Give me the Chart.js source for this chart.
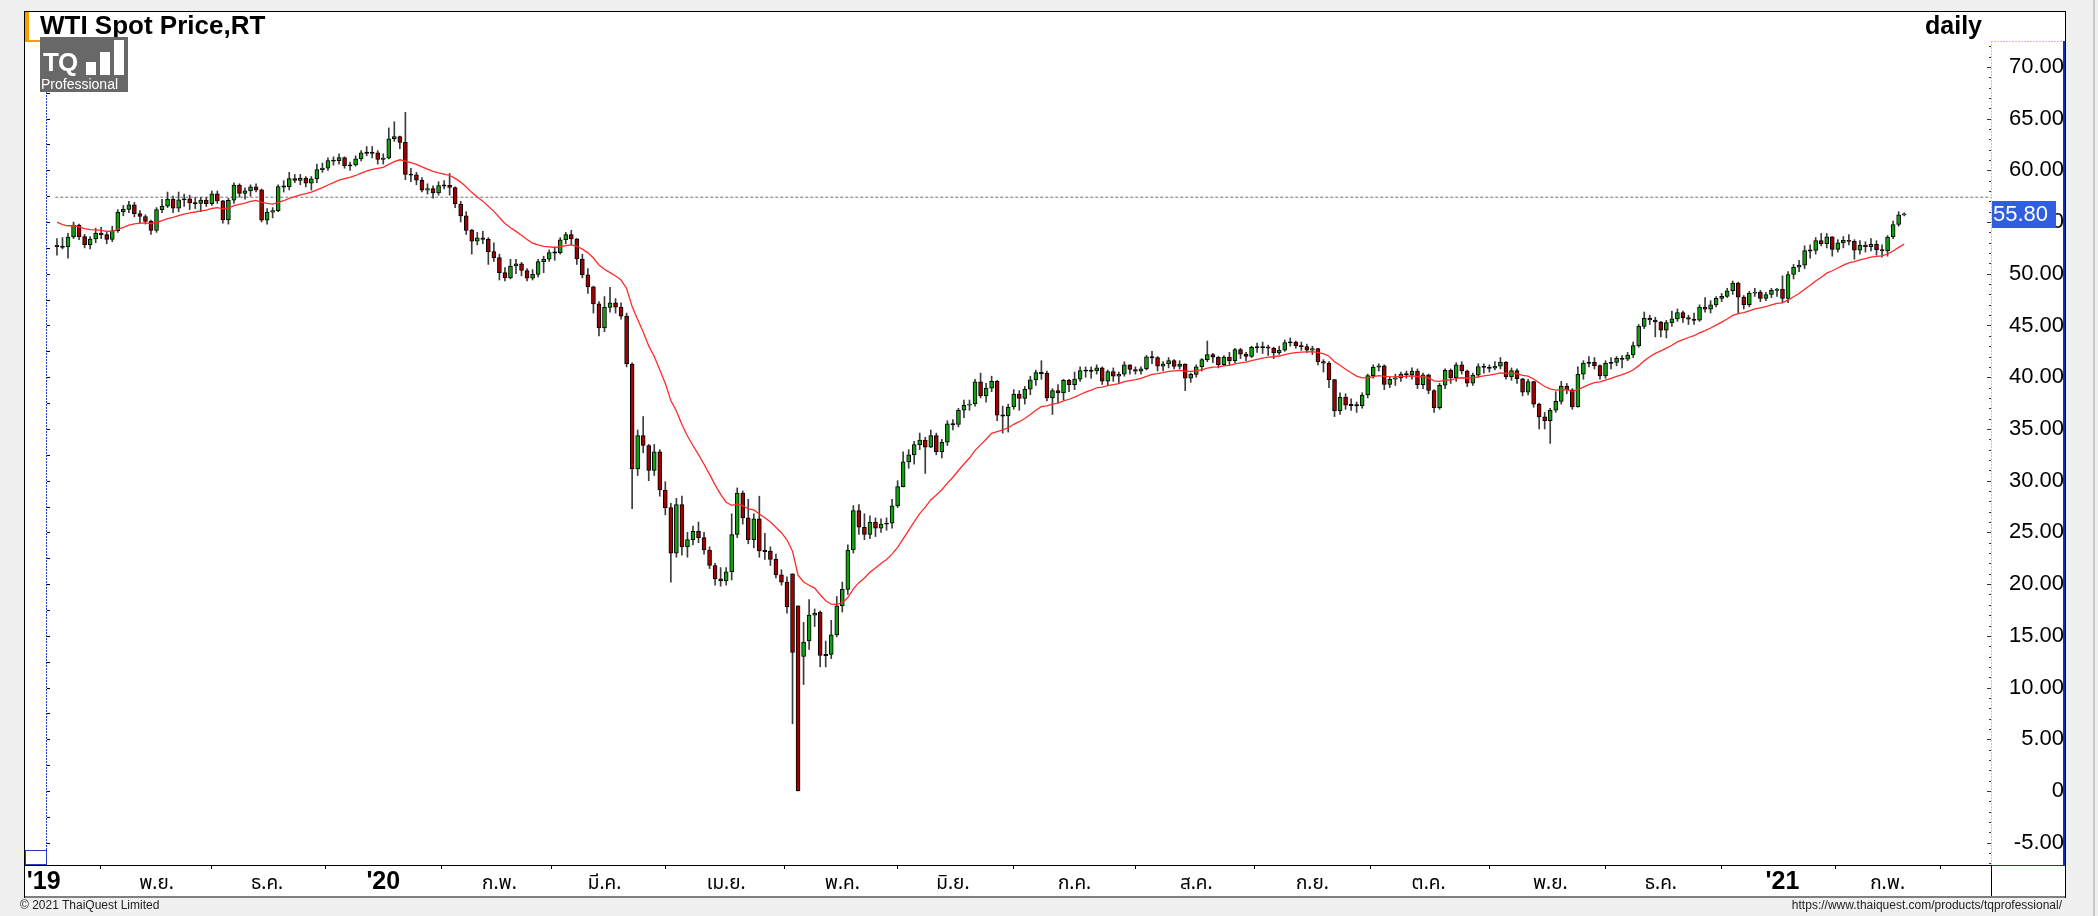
<!DOCTYPE html>
<html>
<head>
<meta charset="utf-8">
<script src="https://cdn.jsdelivr.net/npm/chart.js@4.4.1/dist/chart.umd.min.js"></script>
<style>
html,body{margin:0;padding:0;width:2098px;height:916px;overflow:hidden;background:#f0f0f0;font-family:"Liberation Sans",Arial,sans-serif;}
#frame{position:absolute;left:24px;top:11px;width:2042px;height:887px;background:#fff;border:1px solid #000;box-sizing:border-box;}
#wrap{position:absolute;left:0;top:0;width:2098px;height:916px;}
#title{position:absolute;left:40px;top:11px;font-weight:bold;font-size:26px;color:#000;line-height:29px;}
#daily{position:absolute;right:116px;top:11px;font-weight:bold;font-size:25px;color:#000;line-height:29px;}
#logo{position:absolute;left:40px;top:37px;width:88px;height:55px;background:#686868;color:#fff;}
#logo .tq{position:absolute;left:3px;top:12px;font-weight:bold;font-size:26px;letter-spacing:-1px;line-height:26px;}
#logo .pro{position:absolute;left:1px;top:40px;font-size:14px;line-height:15px;}
#logo .b{position:absolute;background:#fff;width:10px;}
#copy{position:absolute;left:20px;top:898px;font-size:12px;color:#222;font-family:"Liberation Sans Narrow","Liberation Sans",Arial,sans-serif;}
#url{position:absolute;right:36px;top:898px;font-size:12px;color:#222;font-family:"Liberation Sans Narrow","Liberation Sans",Arial,sans-serif;}
#edge{position:absolute;left:2093px;top:0;width:2px;height:916px;background:#c8c8c8;}
</style>
</head>
<body>
<div id="frame"></div>
<div id="edge"></div>
<div id="wrap"><canvas id="c" width="2098" height="916"></canvas></div>
<div id="title">WTI Spot Price,RT</div>
<div id="daily">daily</div>
<div id="logo"><span class="tq">TQ</span>
<span class="b" style="left:46px;top:25px;height:13px"></span>
<span class="b" style="left:60px;top:15px;height:23px"></span>
<span class="b" style="left:74px;top:3px;height:35px"></span>
<span class="pro">Professional</span></div>
<div id="copy">© 2021 ThaiQuest Limited</div>
<div id="url">https://www.thaiquest.com/products/tqprofessional/</div>
<script>
// ---------------- DATA ----------------
const tradingDays = [
"2019-10-08","2019-10-09","2019-10-10","2019-10-11","2019-10-14","2019-10-15","2019-10-16","2019-10-17","2019-10-18","2019-10-21","2019-10-22","2019-10-23","2019-10-24","2019-10-25","2019-10-28","2019-10-29","2019-10-30","2019-10-31",
"2019-11-01","2019-11-04","2019-11-05","2019-11-06","2019-11-07","2019-11-08","2019-11-11","2019-11-12","2019-11-13","2019-11-14","2019-11-15","2019-11-18","2019-11-19","2019-11-20","2019-11-21","2019-11-22","2019-11-25","2019-11-26","2019-11-27","2019-11-29",
"2019-12-02","2019-12-03","2019-12-04","2019-12-05","2019-12-06","2019-12-09","2019-12-10","2019-12-11","2019-12-12","2019-12-13","2019-12-16","2019-12-17","2019-12-18","2019-12-19","2019-12-20","2019-12-23","2019-12-24","2019-12-26","2019-12-27","2019-12-30","2019-12-31",
"2020-01-02","2020-01-03","2020-01-06","2020-01-07","2020-01-08","2020-01-09","2020-01-10","2020-01-13","2020-01-14","2020-01-15","2020-01-16","2020-01-17","2020-01-21","2020-01-22","2020-01-23","2020-01-24","2020-01-27","2020-01-28","2020-01-29","2020-01-30","2020-01-31",
"2020-02-03","2020-02-04","2020-02-05","2020-02-06","2020-02-07","2020-02-10","2020-02-11","2020-02-12","2020-02-13","2020-02-14","2020-02-18","2020-02-19","2020-02-20","2020-02-21","2020-02-24","2020-02-25","2020-02-26","2020-02-27","2020-02-28",
"2020-03-02","2020-03-03","2020-03-04","2020-03-05","2020-03-06","2020-03-09","2020-03-10","2020-03-11","2020-03-12","2020-03-13","2020-03-16","2020-03-17","2020-03-18","2020-03-19","2020-03-20","2020-03-23","2020-03-24","2020-03-25","2020-03-26","2020-03-27","2020-03-30","2020-03-31",
"2020-04-01","2020-04-02","2020-04-03","2020-04-06","2020-04-07","2020-04-08","2020-04-09","2020-04-13","2020-04-14","2020-04-15","2020-04-16","2020-04-17","2020-04-20","2020-04-21","2020-04-22","2020-04-23","2020-04-24","2020-04-27","2020-04-28","2020-04-29","2020-04-30",
"2020-05-01","2020-05-04","2020-05-05","2020-05-06","2020-05-07","2020-05-08","2020-05-11","2020-05-12","2020-05-13","2020-05-14","2020-05-15","2020-05-18","2020-05-19","2020-05-20","2020-05-21","2020-05-22","2020-05-26","2020-05-27","2020-05-28","2020-05-29",
"2020-06-01","2020-06-02","2020-06-03","2020-06-04","2020-06-05","2020-06-08","2020-06-09","2020-06-10","2020-06-11","2020-06-12","2020-06-15","2020-06-16","2020-06-17","2020-06-18","2020-06-19","2020-06-22","2020-06-23","2020-06-24","2020-06-25","2020-06-26","2020-06-29","2020-06-30",
"2020-07-01","2020-07-02","2020-07-06","2020-07-07","2020-07-08","2020-07-09","2020-07-10","2020-07-13","2020-07-14","2020-07-15","2020-07-16","2020-07-17","2020-07-20","2020-07-21","2020-07-22","2020-07-23","2020-07-24","2020-07-27","2020-07-28","2020-07-29","2020-07-30","2020-07-31",
"2020-08-03","2020-08-04","2020-08-05","2020-08-06","2020-08-07","2020-08-10","2020-08-11","2020-08-12","2020-08-13","2020-08-14","2020-08-17","2020-08-18","2020-08-19","2020-08-20","2020-08-21","2020-08-24","2020-08-25","2020-08-26","2020-08-27","2020-08-28","2020-08-31",
"2020-09-01","2020-09-02","2020-09-03","2020-09-04","2020-09-08","2020-09-09","2020-09-10","2020-09-11","2020-09-14","2020-09-15","2020-09-16","2020-09-17","2020-09-18","2020-09-21","2020-09-22","2020-09-23","2020-09-24","2020-09-25","2020-09-28","2020-09-29","2020-09-30",
"2020-10-01","2020-10-02","2020-10-05","2020-10-06","2020-10-07","2020-10-08","2020-10-09","2020-10-12","2020-10-13","2020-10-14","2020-10-15","2020-10-16","2020-10-19","2020-10-20","2020-10-21","2020-10-22","2020-10-23","2020-10-26","2020-10-27","2020-10-28","2020-10-29","2020-10-30",
"2020-11-02","2020-11-03","2020-11-04","2020-11-05","2020-11-06","2020-11-09","2020-11-10","2020-11-11","2020-11-12","2020-11-13","2020-11-16","2020-11-17","2020-11-18","2020-11-19","2020-11-20","2020-11-23","2020-11-24","2020-11-25","2020-11-27","2020-11-30",
"2020-12-01","2020-12-02","2020-12-03","2020-12-04","2020-12-07","2020-12-08","2020-12-09","2020-12-10","2020-12-11","2020-12-14","2020-12-15","2020-12-16","2020-12-17","2020-12-18","2020-12-21","2020-12-22","2020-12-23","2020-12-24","2020-12-28","2020-12-29","2020-12-30","2020-12-31",
"2021-01-04","2021-01-05","2021-01-06","2021-01-07","2021-01-08","2021-01-11","2021-01-12","2021-01-13","2021-01-14","2021-01-15","2021-01-19","2021-01-20","2021-01-21","2021-01-22","2021-01-25","2021-01-26","2021-01-27","2021-01-28","2021-01-29",
"2021-02-01","2021-02-02","2021-02-03","2021-02-04"];

const openP = [
52.75,52.63,52.59,53.55,54.70,53.59,52.81,53.36,53.93,53.78,53.31,54.16,55.97,56.23,56.66,55.81,55.54,55.06,
54.18,56.20,56.54,57.23,56.35,57.15,57.24,56.86,56.80,57.12,56.77,57.72,57.05,55.21,57.11,58.58,57.77,58.01,58.41,58.11,
55.17,55.96,56.10,58.43,58.43,59.20,59.02,59.24,58.76,59.18,60.07,60.21,60.94,60.93,61.22,60.44,60.52,61.11,61.68,61.72,61.68,
61.06,61.18,63.05,63.27,62.70,59.61,59.56,59.04,58.08,58.23,57.81,58.52,58.54,58.34,56.74,55.59,54.19,53.14,53.48,53.33,52.14,
51.56,50.11,49.61,50.75,50.95,50.32,49.57,49.94,51.17,51.42,52.05,52.05,53.29,53.78,53.38,51.43,49.90,48.73,47.09,
44.76,46.75,47.18,46.78,45.90,41.28,31.13,34.36,33.40,31.00,32.80,29.10,27.40,23.00,27.70,23.60,24.30,25.10,24.50,23.30,21.80,20.50,
20.30,21.20,24.80,28.80,26.40,24.30,26.30,23.20,23.20,22.40,20.90,20.20,21.00,17.90,13.00,14.50,17.00,17.30,13.10,13.20,15.10,
17.90,19.50,23.30,27.10,25.50,24.80,26.00,25.40,25.80,25.90,27.56,29.43,31.82,32.50,33.49,33.92,33.25,34.35,32.81,33.71,
35.49,35.44,36.81,37.29,37.41,39.55,38.19,38.94,39.60,36.34,36.26,37.12,38.38,37.96,38.84,39.75,40.46,40.37,38.01,38.72,38.49,39.70,
39.27,39.82,40.65,40.63,40.62,40.90,39.62,40.55,40.10,40.29,41.20,40.75,40.59,40.81,41.96,41.90,41.07,41.29,41.60,41.04,41.27,39.92,
40.27,41.01,41.70,42.19,41.95,41.22,41.94,41.61,42.67,42.24,42.01,42.89,42.89,42.93,42.82,42.34,42.62,43.35,43.39,43.04,42.97,
42.61,42.76,41.51,41.37,39.77,36.76,38.05,37.30,37.33,37.26,38.28,40.16,40.97,41.11,39.31,39.80,39.93,40.31,40.25,40.60,39.29,
40.22,38.72,37.05,39.22,40.67,39.95,41.19,40.60,39.43,40.20,41.04,40.96,40.88,41.06,41.46,40.03,40.64,39.85,38.56,39.57,37.39,36.17,
35.79,36.81,37.66,39.15,38.79,37.14,40.29,41.36,41.45,41.12,40.13,41.34,41.43,41.82,41.74,42.15,43.06,44.91,45.71,45.53,
45.34,44.55,45.28,45.64,46.26,45.76,45.60,45.52,46.78,46.57,46.99,47.62,47.82,48.36,49.10,47.74,47.02,48.12,48.23,47.62,48.00,48.40,
48.52,47.62,49.93,50.63,50.83,52.24,52.25,53.21,52.91,53.57,52.36,52.98,53.24,53.13,52.27,52.77,52.61,52.85,52.34,
52.20,53.55,54.76,55.69];

const highP = [
53.40,53.50,53.90,55.00,54.80,53.80,53.60,54.40,54.50,54.00,54.60,56.20,56.60,57.00,56.90,56.10,55.70,55.20,
56.40,57.20,57.90,57.50,57.90,57.70,57.60,57.40,57.40,57.40,58.00,58.00,57.10,57.30,58.80,58.70,58.30,58.60,58.70,58.20,
56.30,56.40,58.60,59.00,59.80,59.60,59.60,59.40,59.40,60.60,60.70,61.20,61.30,61.60,61.30,60.80,61.40,61.90,62.30,62.30,61.90,
61.60,64.10,64.70,63.30,65.60,60.20,59.80,59.30,58.70,58.50,58.90,59.00,59.70,58.40,57.00,56.00,54.30,54.00,54.10,53.50,53.00,
51.90,50.60,51.40,51.40,51.10,50.50,50.40,51.40,51.70,52.30,52.60,53.50,54.00,54.20,53.40,51.90,50.50,48.80,47.30,
47.80,48.70,47.60,47.20,46.20,41.40,34.90,36.20,33.50,33.50,33.00,29.90,27.80,28.30,28.50,25.00,25.60,26.00,25.00,23.60,22.00,21.60,
21.60,26.80,29.30,29.00,28.20,26.80,28.50,24.90,23.60,22.90,21.40,20.70,21.00,17.90,16.30,18.50,17.60,17.40,14.50,16.50,18.80,
20.20,23.80,27.60,27.70,26.80,26.60,26.40,26.30,26.40,28.20,30.00,32.80,33.00,33.80,34.60,34.20,34.90,34.60,34.00,35.80,
35.90,37.00,37.80,37.80,39.80,40.40,39.40,40.10,39.70,37.20,37.40,38.80,38.70,39.10,40.10,40.70,41.60,40.60,38.90,39.30,39.80,39.80,
40.50,41.00,41.00,41.00,41.20,41.00,40.70,40.90,40.50,41.50,41.20,41.00,41.00,42.10,42.50,42.00,41.50,41.90,41.70,41.60,41.30,40.40,
41.20,41.80,43.50,42.30,42.00,42.10,42.40,42.80,42.80,42.40,43.00,43.30,43.40,43.10,42.90,43.00,43.60,43.80,43.50,43.40,43.20,
43.00,42.80,41.70,41.50,39.80,38.50,38.40,37.90,37.60,38.50,40.30,41.20,41.30,41.20,40.00,40.30,40.50,40.60,40.90,40.80,40.40,
40.30,38.80,39.40,40.80,40.80,41.40,41.50,40.70,40.40,41.30,41.30,41.20,41.50,41.90,41.50,40.90,40.80,39.90,39.80,39.60,37.50,36.60,
37.00,38.60,39.60,39.40,38.90,41.00,41.60,42.00,41.90,41.20,41.60,41.90,42.00,42.10,42.40,43.40,45.10,46.30,46.00,45.80,
45.40,45.50,46.40,46.60,46.40,46.00,46.20,47.00,47.70,47.40,47.80,48.10,48.60,49.30,49.20,47.90,48.30,48.60,48.40,48.20,48.60,48.60,
49.80,50.20,50.90,51.30,52.70,52.80,53.50,53.90,53.90,53.60,53.30,53.60,53.80,53.30,53.20,53.10,53.40,53.20,52.80,
53.70,55.10,56.00,55.90];

const lowP = [
51.80,52.40,51.50,53.40,53.30,52.50,52.40,53.00,53.40,52.90,53.10,54.00,55.60,55.90,55.50,54.90,54.80,53.80,
54.00,55.90,56.40,55.90,56.00,56.50,56.20,56.30,56.00,56.50,56.60,56.80,54.90,54.80,56.80,57.40,57.20,57.50,57.90,55.00,
54.80,55.40,56.00,57.90,58.10,58.80,58.60,58.40,58.10,58.80,59.80,60.00,60.50,60.60,60.20,60.00,60.40,60.90,61.40,61.20,60.60,
60.60,61.10,62.80,62.10,59.10,58.90,58.60,57.90,57.70,57.30,57.60,58.20,57.60,56.40,55.00,53.80,51.90,52.80,52.90,50.90,51.20,
49.40,49.30,49.50,50.00,49.80,49.30,49.40,49.70,50.10,51.20,51.30,51.90,52.90,52.80,50.90,49.60,48.10,46.20,44.00,
44.40,46.30,46.20,45.60,41.00,27.30,30.50,32.70,30.00,30.50,28.50,26.70,20.20,22.60,22.80,22.60,23.80,24.00,22.90,21.50,19.90,19.80,
19.90,20.40,24.50,25.80,23.90,23.50,22.60,22.40,21.80,20.60,19.90,17.20,6.50,0.00,10.30,13.70,15.90,12.00,12.00,12.80,14.90,
17.30,19.00,23.00,24.80,24.30,24.40,24.60,25.00,25.20,25.40,27.40,29.40,31.20,31.60,33.00,30.70,33.20,32.50,32.20,33.40,
34.90,35.20,36.10,36.80,37.20,38.00,37.60,38.60,35.80,34.60,34.70,36.90,36.80,37.40,38.30,39.20,39.80,37.70,36.40,37.50,37.80,38.60,
38.80,39.60,40.00,39.90,40.30,39.30,39.20,39.60,39.40,40.10,40.30,40.30,40.30,40.70,41.30,40.60,40.60,40.90,40.80,40.80,38.70,39.50,
40.00,40.60,41.50,41.40,40.90,41.10,41.20,41.40,41.80,41.60,41.90,42.40,42.30,42.10,41.80,42.20,42.50,43.00,42.80,42.60,42.40,
42.20,41.20,40.50,39.00,36.20,36.40,36.90,36.80,36.60,37.00,38.00,39.90,40.60,38.80,39.00,39.20,39.60,39.90,39.80,38.90,38.90,
38.40,36.60,36.90,38.90,39.40,39.60,40.30,39.10,39.20,40.00,40.40,40.50,40.70,40.80,39.80,39.70,39.40,38.20,38.30,37.10,35.00,35.00,
33.60,36.60,37.40,38.40,36.90,37.10,39.80,41.00,40.80,39.80,39.90,40.80,41.10,40.90,41.60,41.90,42.90,44.70,45.10,43.90,
43.90,43.80,44.90,45.40,45.30,45.10,45.10,45.40,46.30,46.20,46.80,47.30,47.70,48.00,46.20,46.60,46.80,47.80,47.30,47.40,47.70,47.80,
47.20,47.20,49.50,50.20,50.50,51.50,51.90,52.70,52.50,51.70,52.10,52.50,52.80,51.40,51.90,52.10,52.20,51.80,51.60,
51.70,53.40,54.60,55.60];

const closeP = [
52.63,52.59,53.55,54.70,53.59,52.81,53.36,53.93,53.78,53.31,54.16,55.97,56.23,56.66,55.81,55.54,55.06,54.18,
56.20,56.54,57.23,56.35,57.15,57.24,56.86,56.80,57.12,56.77,57.72,57.05,55.21,57.11,58.58,57.77,58.01,58.41,58.11,55.17,
55.96,56.10,58.43,58.43,59.20,59.02,59.24,58.76,59.18,60.07,60.21,60.94,60.93,61.22,60.44,60.52,61.11,61.68,61.72,61.68,61.06,
61.18,63.05,63.27,62.70,59.61,59.56,59.04,58.08,58.23,57.81,58.52,58.54,58.34,56.74,55.59,54.19,53.14,53.48,53.33,52.14,51.56,
50.11,49.61,50.75,50.95,50.32,49.57,49.94,51.17,51.42,52.05,52.05,53.29,53.78,53.38,51.43,49.90,48.73,47.09,44.76,
46.75,47.18,46.78,45.90,41.28,31.13,34.36,33.40,31.00,32.80,29.10,27.40,23.00,27.70,23.60,24.30,25.10,24.50,23.30,21.80,20.50,20.30,
21.20,24.80,28.80,26.40,24.30,26.30,23.20,23.20,22.40,20.90,20.20,17.80,13.40,0.00,14.40,17.00,17.20,13.10,13.20,15.10,17.90,
19.50,23.30,27.10,25.50,24.80,26.00,25.40,25.80,25.90,27.56,29.43,31.82,32.50,33.49,33.92,33.25,34.35,32.81,33.71,35.49,
35.44,36.81,37.29,37.41,39.55,38.19,38.94,39.60,36.34,36.26,37.12,38.38,37.96,38.84,39.75,40.46,40.37,38.01,38.72,38.49,39.70,39.27,
39.82,40.65,40.63,40.62,40.90,39.62,40.55,40.10,40.29,41.20,40.75,40.59,40.81,41.96,41.90,41.07,41.29,41.60,41.04,41.27,39.92,40.27,
41.01,41.70,42.19,41.95,41.22,41.94,41.61,42.67,42.24,42.01,42.89,42.89,42.93,42.82,42.34,42.62,43.35,43.39,43.04,42.97,42.61,
42.76,41.51,41.37,39.77,36.76,38.05,37.30,37.33,37.26,38.28,40.16,40.97,41.11,39.31,39.80,39.93,40.31,40.25,40.60,39.29,40.22,
38.72,37.05,39.22,40.67,39.95,41.19,40.60,39.43,40.20,41.04,40.96,40.88,41.06,41.46,40.03,40.64,39.85,38.56,39.57,37.39,36.17,35.79,
36.81,37.66,39.15,38.79,37.14,40.29,41.36,41.45,41.12,40.13,41.34,41.43,41.82,41.74,42.15,43.06,44.91,45.71,45.53,45.34,
44.55,45.28,45.64,46.26,45.76,45.60,45.52,46.78,46.57,46.99,47.62,47.82,48.36,49.10,47.74,47.02,48.12,48.23,47.62,48.00,48.40,48.52,
47.62,49.93,50.63,50.83,52.24,52.25,53.21,52.91,53.57,52.36,52.98,53.24,53.13,52.27,52.77,52.61,52.85,52.34,52.20,
53.55,54.76,55.69,55.80];

const maLine = [
55.00,54.76,54.64,54.65,54.54,54.37,54.27,54.24,54.19,54.10,54.11,54.30,54.49,54.71,54.82,54.89,54.91,54.84,
54.98,55.13,55.34,55.44,55.61,55.77,55.88,55.97,56.09,56.16,56.31,56.39,56.27,56.35,56.58,56.70,56.83,56.99,57.10,56.91,
56.81,56.74,56.91,57.06,57.28,57.45,57.63,57.74,57.89,58.10,58.32,58.58,58.81,59.05,59.19,59.32,59.50,59.72,59.92,60.10,60.19,
60.29,60.57,60.84,61.02,60.88,60.75,60.58,60.33,60.12,59.89,59.75,59.63,59.50,59.22,58.86,58.39,57.87,57.43,57.02,56.53,56.03,
55.44,54.86,54.45,54.10,53.72,53.31,52.97,52.79,52.65,52.59,52.54,52.61,52.73,52.80,52.66,52.38,52.02,51.52,50.85,
50.44,50.11,49.78,49.39,48.58,46.84,45.59,44.37,43.03,42.01,40.72,39.39,37.75,36.74,35.43,34.32,33.40,32.51,31.59,30.61,29.60,28.67,
27.92,27.61,27.73,27.60,27.27,27.17,26.77,26.42,26.01,25.50,24.97,24.26,23.17,20.86,20.21,19.89,19.62,18.97,18.39,18.06,18.05,
18.19,18.70,19.54,20.14,20.60,21.14,21.57,21.99,22.38,22.90,23.55,24.38,25.19,26.02,26.81,27.45,28.14,28.61,29.12,29.76,
30.33,30.98,31.61,32.19,32.93,33.46,34.01,34.57,34.75,34.90,35.12,35.45,35.70,36.01,36.39,36.80,37.15,37.24,37.39,37.50,37.72,37.87,
38.07,38.33,38.56,38.76,38.98,39.04,39.19,39.28,39.38,39.57,39.68,39.77,39.88,40.09,40.27,40.35,40.44,40.56,40.61,40.67,40.60,40.57,
40.61,40.72,40.87,40.97,41.00,41.09,41.14,41.30,41.39,41.45,41.60,41.73,41.85,41.94,41.98,42.05,42.18,42.30,42.37,42.43,42.45,
42.48,42.38,42.28,42.03,41.50,41.16,40.77,40.43,40.11,39.93,39.95,40.05,40.16,40.08,40.05,40.04,40.07,40.08,40.14,40.05,40.07,
39.93,39.64,39.60,39.71,39.73,39.88,39.95,39.90,39.93,40.04,40.13,40.21,40.29,40.41,40.37,40.40,40.34,40.17,40.11,39.83,39.47,39.10,
38.87,38.75,38.79,38.79,38.63,38.79,39.05,39.29,39.47,39.54,39.72,39.89,40.08,40.25,40.44,40.70,41.12,41.58,41.98,42.31,
42.54,42.81,43.09,43.41,43.64,43.84,44.01,44.28,44.51,44.76,45.04,45.32,45.63,45.97,46.15,46.24,46.42,46.60,46.71,46.83,46.99,47.14,
47.19,47.47,47.78,48.09,48.50,48.88,49.31,49.67,50.06,50.29,50.56,50.83,51.06,51.18,51.34,51.47,51.60,51.68,51.73,
51.91,52.20,52.55,52.87];

const yTickValues = [-5,0,5,10,15,20,25,30,35,40,45,50,55,60,65,70];
const thaiMonths = ["ม.ค.","ก.พ.","มี.ค.","เม.ย.","พ.ค.","มิ.ย.","ก.ค.","ส.ค.","ก.ย.","ต.ค.","พ.ย.","ธ.ค."];
const firstYearLabel = "'19";
const refLevel = 57.4;
const lastPrice = 55.80;

// ---------------- BUILD ----------------
const X_MIN = -1.8, X_MAX = 349.7, Y_MIN = -7.15, Y_MAX = 72.5;
const n = tradingDays.length;
const xTicks = [{value: X_MIN - 0.6, label: firstYearLabel}];
for (let i = 1; i < n; i++) {
  if (tradingDays[i].slice(0,7) !== tradingDays[i-1].slice(0,7)) {
    const m = +tradingDays[i].slice(5,7);
    xTicks.push({value: i, label: m === 1 ? "'" + tradingDays[i].slice(2,4) : thaiMonths[m-1]});
  }
}
const wickData = [], bodyData = [], bodyColors = [], maData = [];
for (let i = 0; i < n; i++) {
  wickData.push({x: i, y: [lowP[i], highP[i]]});
  const o = openP[i], c = closeP[i];
  if (Math.abs(o - c) < 0.1) {
    const m = (o + c) / 2;
    bodyData.push({x: i, y: [m - 0.06, m + 0.06]});
    bodyColors.push('#000');
  } else {
    bodyData.push({x: i, y: [o, c]});
    bodyColors.push(c > o ? '#12a012' : '#a00000');
  }
  maData.push({x: i, y: maLine[i]});
}

const decor = {
  id: 'decor',
  beforeDatasetsDraw(chart) {
    const {ctx, chartArea: a, scales: {y}} = chart;
    ctx.save();
    ctx.fillStyle = '#f5a000';
    ctx.fillRect(25, 12, 4, a.top - 12);
    ctx.fillRect(25, a.top - 1, a.left - 25, 2);
    ctx.strokeStyle = '#2040c0'; ctx.lineWidth = 1;
    ctx.setLineDash([2,1]);
    ctx.beginPath(); ctx.moveTo(a.left - 0.5, a.top); ctx.lineTo(a.left - 0.5, a.bottom); ctx.stroke();
    ctx.setLineDash([]);
    ctx.strokeStyle = '#000';
    for (let v = -7.5; v <= 72.5; v += 2.5) {
      if (v < Y_MIN || v > Y_MAX) continue;
      const py = Math.round(y.getPixelForValue(v)) + 0.5;
      ctx.beginPath(); ctx.moveTo(a.left, py); ctx.lineTo(a.left + 3, py); ctx.stroke();
    }
    ctx.strokeStyle = '#2040c0';
    ctx.strokeRect(25.5, a.bottom - 14.5, a.left - 26, 14);
    ctx.strokeStyle = '#f0c850'; ctx.setLineDash([2,1]);
    ctx.beginPath(); ctx.moveTo(a.right + 0.5, a.top); ctx.lineTo(a.right + 0.5, a.bottom); ctx.stroke();
    ctx.beginPath(); ctx.moveTo(a.right, a.top + 0.5); ctx.lineTo(2064, a.top + 0.5); ctx.stroke();
    ctx.setLineDash([]);
    ctx.strokeStyle = '#333';
    for (let v = -7; v <= 72; v += 1) {
      const py = Math.round(y.getPixelForValue(v)) + 0.5;
      const len = (v % 5 === 0) ? 4 : 2;
      ctx.beginPath(); ctx.moveTo(a.right - len, py); ctx.lineTo(a.right, py); ctx.stroke();
    }
    ctx.fillStyle = '#1030c0';
    ctx.fillRect(2063, a.top, 2, a.bottom - a.top + 1);
    ctx.fillRect(a.right, a.bottom, 2065 - a.right, 1);
    ctx.fillStyle = '#000';
    ctx.fillRect(25, a.bottom, a.right - 25, 1);
    ctx.fillRect(a.right, a.bottom, 1, 31);
    ctx.fillStyle = '#808080';
    ctx.fillRect(25, a.bottom + 31, 2040, 2);
    ctx.restore();
  },
  afterDraw(chart) {
    const {ctx, chartArea: a, scales: {y}} = chart;
    const py = y.getPixelForValue(lastPrice);
    ctx.save();
    ctx.fillStyle = '#2f5ee0';
    ctx.fillRect(a.right + 1, Math.round(py) - 13, 64, 27);
    ctx.fillStyle = '#fff';
    ctx.font = '22px "Liberation Sans", Arial, sans-serif';
    ctx.textBaseline = 'middle'; ctx.textAlign = 'left';
    ctx.fillText(lastPrice.toFixed(2), a.right + 2, Math.round(py) + 1);
    ctx.restore();
  }
};

new Chart(document.getElementById('c').getContext('2d'), {
  data: {
    datasets: [
      {type: 'line', data: [{x: -0.3, y: refLevel}, {x: X_MAX, y: refLevel}], borderColor: '#707070', borderWidth: 1, borderDash: [3,2], pointRadius: 0, order: 4},
      {type: 'bar', data: wickData, backgroundColor: '#3c3c3c', barThickness: 1, grouped: false, order: 3},
      {type: 'bar', data: bodyData, backgroundColor: bodyColors, borderColor: '#000', borderWidth: 1, borderSkipped: false, barThickness: 4, grouped: false, order: 2},
      {type: 'line', data: maData, borderColor: '#ff2a2a', borderWidth: 1.3, pointRadius: 0, tension: 0, order: 1}
    ]
  },
  options: {
    responsive: false,
    animation: false,
    devicePixelRatio: 1,
    layout: {padding: {left: 47, top: 41, right: 34, bottom: 19}},
    plugins: {legend: {display: false}, tooltip: {enabled: false}},
    scales: {
      x: {
        type: 'linear', min: X_MIN, max: X_MAX, position: 'bottom', offset: false,
        afterBuildTicks: s => { s.ticks = xTicks.map(t => ({value: t.value})); },
        afterFit: s => { s.height = 32; },
        grid: {display: true, drawOnChartArea: false, drawTicks: true, tickLength: 4, color: '#000'},
        border: {display: true, color: '#000'},
        ticks: {
          autoSkip: false, maxRotation: 0, minRotation: 0, padding: 13, color: '#000', crossAlign: 'center',
          callback: v => { const t = xTicks.find(tt => Math.abs(tt.value - v) < 1e-6); return t ? t.label : ''; },
          font: c => (c.tick && String(c.tick.label).charAt(0) === "'")
            ? {family: '"Liberation Sans Narrow","Liberation Sans",Arial,sans-serif', size: 25, weight: 'bold'}
            : {family: 'Tahoma,"Noto Sans Thai","Noto Sans","DejaVu Sans",sans-serif', size: 19}
        }
      },
      y: {
        type: 'linear', position: 'right', min: Y_MIN, max: Y_MAX,
        afterBuildTicks: s => { s.ticks = yTickValues.map(v => ({value: v})); },
        afterFit: s => { s.width = 73; },
        grid: {display: false},
        border: {display: false},
        ticks: {
          crossAlign: 'far', padding: 2, color: '#000',
          font: {family: '"Liberation Sans",Arial,sans-serif', size: 22},
          callback: v => v === 0 ? '0' : v.toFixed(2)
        }
      }
    }
  },
  plugins: [decor]
});
</script>
</body>
</html>
